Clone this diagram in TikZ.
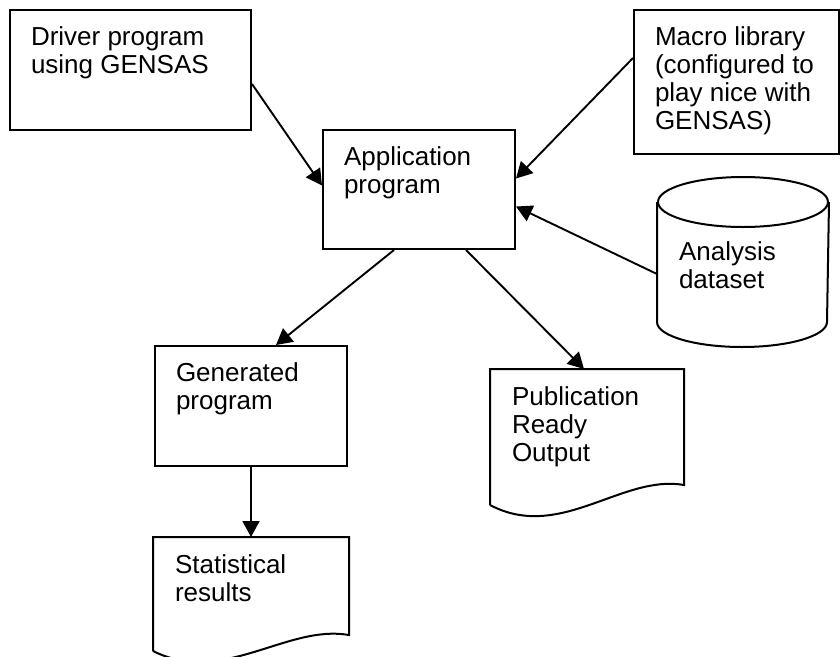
\documentclass[tikz,border=0pt]{standalone}
\usepackage{fontspec}
\setmainfont{Liberation Sans}
\usetikzlibrary{arrows.meta,calc}

\begin{document}
\begin{tikzpicture}[x=1pt, y=-1pt, line width=2pt,
  lbl/.style={font=\fontsize{26}{28}\selectfont, align=left, inner sep=0pt, anchor=north west, xshift=21pt, yshift=-17pt},
  box/.style={draw, rectangle, anchor=north west, inner sep=0pt},
  page/.style={rectangle, anchor=north west, inner sep=0pt},
  arr/.style={-{Triangle[length=16pt,width=17pt]}, line width=1.9pt}]
  \useasboundingbox (0,0) rectangle (840,656);
  % boxes
  \node[box, minimum width=241, minimum height=120, label={[lbl]north west:{Driver program\\using GENSAS}}] (driver) at (9,9) {};
  \node[box, minimum width=192, minimum height=119, label={[lbl]north west:{Application\\program}}] (app) at (322,129) {};
  \node[box, minimum width=205, minimum height=144, label={[lbl]north west:{Macro library\\(configured to\\play nice with\\GENSAS)}}] (macro) at (633,9) {};
  \node[box, minimum width=192, minimum height=120, label={[lbl]north west:{Generated\\program}}] (gen) at (154,345) {};
  \node[page, minimum width=192, minimum height=134, label={[lbl]north west:{Publication\\Ready\\Output}}] (pub) at (490,369) {};
  \node[page, minimum width=194, minimum height=112, label={[lbl]north west:{Statistical\\results}}] (stat) at (153,537) {};
  \node[page, minimum width=170, minimum height=168, label={[lbl, yshift=-47pt]north west:{Analysis\\dataset}}] (data) at (657,177) {};
  % document outlines
  \draw (pub.south west) -- (pub.north west) -- (pub.north east) -- ($(pub.south east)+(0,-20)$)
    .. controls +(-62,-11) and +(70,37) .. (pub.south west);
  \draw (stat.south west) -- (stat.north west) -- (stat.north east) -- ($(stat.south east)+(0,-16)$)
    .. controls +(-62,-11) and +(70,35) .. (stat.south west);
  % dataset cylinder
  \draw ($(data.north west)+(0,25)$) -- ($(data.south west)+(0,-25)$)
    arc[start angle=180, end angle=360, x radius=85pt, y radius=25pt]
    -- ($(data.north east)+(0,25)$);
  \draw ($(data.north)+(0,25)$) ellipse[x radius=85pt, y radius=25pt];
  % connectors
  \draw[arr] ($(driver.east)+(0,14)$) -- ($(app.west)+(0,-4)$);
  \draw[arr] ($(macro.west)+(0,-24)$) -- ($(app.east)+(0,-11)$);
  \draw[arr] ($(data.west)+(0,12)$) -- ($(app.east)+(0,17)$);
  \draw[arr] ($(app.south)+(-25,0)$) -- ($(gen.north)+(25,0)$);
  \draw[arr] ($(app.south)+(47,0)$) -- ($(pub.north)+(-3,0)$);
  \draw[arr] (gen.south) -- (stat.north);
\end{tikzpicture}
\end{document}
